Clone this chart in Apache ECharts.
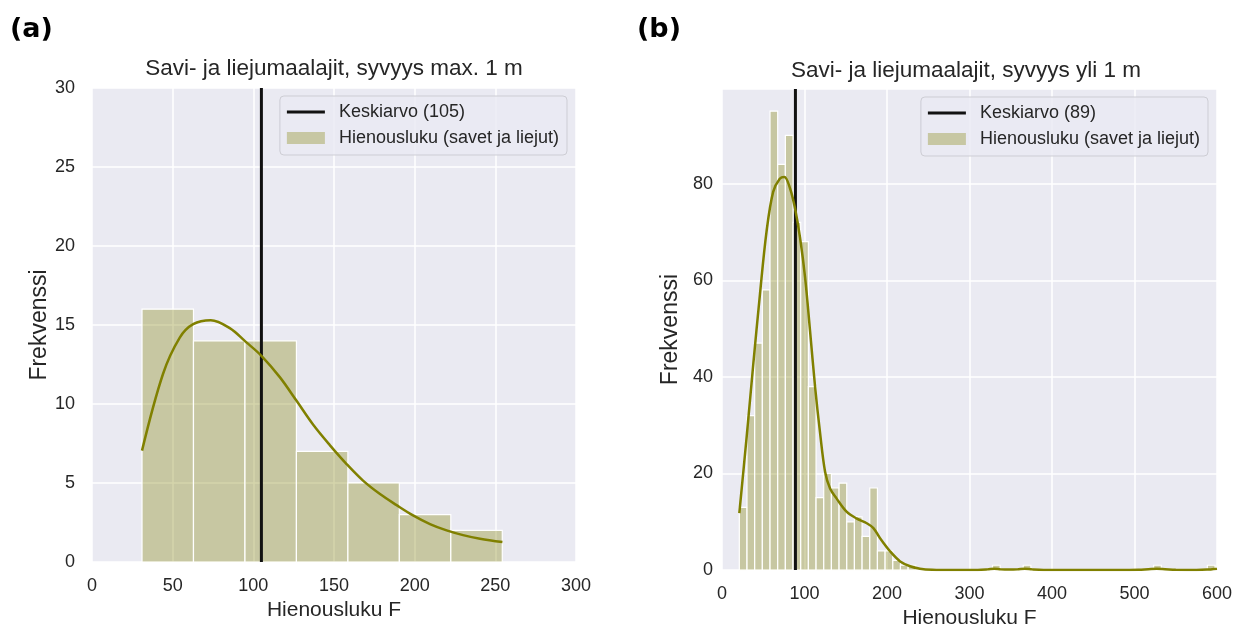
<!DOCTYPE html>
<html>
<head>
<meta charset="utf-8">
<script src="https://cdn.jsdelivr.net/npm/echarts@6/dist/echarts.min.js"></script>
<style>
  html, body { margin: 0; padding: 0; background: #fff; }
  #chart { width: 1236px; height: 634px; }
</style>
</head>
<body>
<div id="chart"></div>
<script>
// ---- data (a): syvyys max. 1 m ----
var meanA = 105;
var binStartA = 31;
var binWidthA = 31.9;
var countsA = [16, 14, 14, 7, 5, 3, 2];
var kdeXA = [31, 44, 54.4, 62.7, 73.6, 85.4, 95.7, 105, 116.4, 126.8, 137, 147.4, 157.8, 168, 178.5, 188.8, 199, 209.5, 219.8, 230, 240.5, 254.4];
var kdeYA = [7.05, 11.9, 14.2, 15.05, 15.3, 14.8, 13.9, 13.05, 11.7, 10.2, 8.7, 7.4, 6.2, 5.15, 4.3, 3.6, 2.95, 2.4, 2.0, 1.7, 1.47, 1.26];

// ---- data (b): syvyys yli 1 m ----
var meanB = 89;
var binStartB = 21;
var binWidthB = 9.3;
var countsB = [13, 32, 47, 58, 95, 84, 90, 72, 68, 38, 15, 20, 17, 18, 10, 11, 7, 17, 4, 4, 2, 1, 1,
               0, 0, 0, 0, 0, 0, 0, 0, 0, 0, 1, 0, 0, 0, 1,
               0, 0, 0, 0, 0, 0, 0, 0, 0, 0, 0, 0, 0, 0, 0, 0, 1,
               0, 0, 0, 0, 0, 0, 1];
var kdeXB = [21, 30, 38, 46, 54, 62, 70, 75.6, 82.5, 88.5, 94.6, 100.7, 106.7, 112.8, 118.8, 125, 131, 139, 151, 163, 175.5, 183.5, 191.6, 203.7, 216, 228, 240, 255, 280, 310, 322, 330, 338, 348, 358, 367, 376, 390, 420, 480, 505, 517, 527, 537, 550, 575, 588, 600];
var kdeYB = [11.8, 27.8, 42.8, 57.1, 70.1, 78.3, 81.0, 81.4, 79, 74.9, 68.8, 60.6, 49.6, 38, 28.5, 20.3, 16.9, 14.8, 12.1, 10.7, 9.7, 8.7, 6.6, 3.9, 1.8, 0.8, 0.3, 0.08, 0.02, 0.03, 0.15, 0.3, 0.15, 0.1, 0.15, 0.3, 0.15, 0.03, 0.01, 0.01, 0.05, 0.2, 0.3, 0.2, 0.05, 0.03, 0.1, 0.3];

var titleA = 'Savi- ja liejumaalajit, syvyys max. 1 m';
var titleB = 'Savi- ja liejumaalajit, syvyys yli 1 m';
var histName = 'Hienousluku (savet ja liejut)';

var FONT = '"Liberation Sans", Arial, sans-serif';
var TXT = '#262626';
var BAR = 'rgba(128,128,0,0.33)';
var OLIVE = '#808000';

function histData(start, width, counts) {
  return counts.map(function (c, i) {
    return [start + i * width, start + (i + 1) * width, c];
  });
}
function zip(xs, ys) {
  return xs.map(function (x, i) { return [x, ys[i]]; });
}
function renderHist(params, api) {
  var p0 = api.coord([api.value(0), api.value(2)]);
  var p1 = api.coord([api.value(1), 0]);
  return {
    type: 'rect',
    shape: { x: p0[0], y: p0[1], width: p1[0] - p0[0], height: p1[1] - p0[1] },
    style: { fill: BAR, stroke: '#ffffff', lineWidth: 1.2 }
  };
}

function xAxisCfg(gi, max, interval, gap) {
  return {
    gridIndex: gi, type: 'value', min: 0, max: max, interval: interval,
    axisLine: { show: false }, axisTick: { show: false },
    splitLine: { lineStyle: { color: '#ffffff', width: 1.5 } },
    axisLabel: { fontSize: 18, color: TXT, margin: 15, fontFamily: FONT },
    name: 'Hienousluku F', nameLocation: 'middle', nameGap: gap,
    nameTextStyle: { fontSize: 21, color: TXT, fontFamily: FONT }
  };
}
function yAxisCfg(gi, max, interval, margin, gap) {
  return {
    gridIndex: gi, type: 'value', min: 0, max: max, interval: interval,
    axisLine: { show: false }, axisTick: { show: false },
    splitLine: { lineStyle: { color: '#ffffff', width: 1.5 } },
    axisLabel: {
      fontSize: 18, color: TXT, margin: margin, fontFamily: FONT,
      formatter: function (v) { return v % interval === 0 ? String(v) : ''; }
    },
    name: 'Frekvenssi', nameLocation: 'middle', nameGap: gap,
    nameTextStyle: { fontSize: 23, color: TXT, fontFamily: FONT }
  };
}
function legendCfg(meanName, right, top) {
  return {
    orient: 'vertical', right: right, top: top,
    itemWidth: 38, itemHeight: 12, itemGap: 8,
    padding: [7, 8, 8, 7],
    backgroundColor: 'rgba(234,234,242,0.8)',
    borderColor: '#cdcdd4', borderWidth: 1, borderRadius: 4,
    textStyle: { fontSize: 18, color: TXT, fontFamily: FONT, padding: [0, 0, 0, 9] },
    selectedMode: false,
    data: [
      { name: meanName, icon: 'path://M0,0H38V3H0Z', itemStyle: { color: '#111111' } },
      { name: histName, icon: 'rect', itemStyle: { color: BAR } }
    ]
  };
}

var yMaxA = 30, yMaxB = 99.6;
var meanNameA = 'Keskiarvo (' + meanA + ')';
var meanNameB = 'Keskiarvo (' + meanB + ')';

var chart = echarts.init(document.getElementById('chart'));
chart.setOption({
  animation: false,
  graphic: [
    { type: 'text', left: 10, top: 16, style: { text: '(a)', font: 'bold 27px "DejaVu Sans", Verdana, sans-serif', fill: '#000' } },
    { type: 'text', left: 637, top: 16, style: { text: '(b)', font: 'bold 27px "DejaVu Sans", Verdana, sans-serif', fill: '#000' } },
    { type: 'text', x: 334, y: 68.5, style: { text: titleA, font: '22.5px ' + FONT, fill: TXT, align: 'center', verticalAlign: 'middle' } },
    { type: 'text', x: 966, y: 70.5, style: { text: titleB, font: '22.5px ' + FONT, fill: TXT, align: 'center', verticalAlign: 'middle' } }
  ],
  grid: [
    { left: 92, top: 88, width: 484, height: 474, show: true, backgroundColor: '#eaeaf2', borderWidth: 0 },
    { left: 722, top: 89, width: 495, height: 487, show: true, backgroundColor: '#eaeaf2', borderWidth: 0 }
  ],
  xAxis: [xAxisCfg(0, 300, 50, 31), xAxisCfg(1, 600, 100, 31)],
  yAxis: [yAxisCfg(0, yMaxA, 5, 17, 38), yAxisCfg(1, yMaxB, 20, 9, 40)],
  legend: [legendCfg(meanNameA, 669, 96), legendCfg(meanNameB, 28, 97)],
  series: [
    { name: histName, type: 'custom', xAxisIndex: 0, yAxisIndex: 0, renderItem: renderHist,
      itemStyle: { color: BAR }, encode: { x: [0, 1], y: 2 }, data: histData(binStartA, binWidthA, countsA), z: 1 },
    { name: 'kdeA', type: 'line', xAxisIndex: 0, yAxisIndex: 0, data: zip(kdeXA, kdeYA),
      smooth: 0.35, showSymbol: false, lineStyle: { color: OLIVE, width: 2.5 }, z: 3 },
    { name: meanNameA, type: 'line', xAxisIndex: 0, yAxisIndex: 0, data: [[meanA, 0], [meanA, yMaxA]],
      showSymbol: false, lineStyle: { color: '#111111', width: 3 }, itemStyle: { color: '#111111' }, z: 2 },

    { name: histName, type: 'custom', xAxisIndex: 1, yAxisIndex: 1, renderItem: renderHist,
      itemStyle: { color: BAR }, encode: { x: [0, 1], y: 2 }, data: histData(binStartB, binWidthB, countsB), z: 1 },
    { name: 'kdeB', type: 'line', xAxisIndex: 1, yAxisIndex: 1, data: zip(kdeXB, kdeYB),
      smooth: 0.35, showSymbol: false, lineStyle: { color: OLIVE, width: 2.5 }, z: 3 },
    { name: meanNameB, type: 'line', xAxisIndex: 1, yAxisIndex: 1, data: [[meanB, 0], [meanB, yMaxB]],
      showSymbol: false, lineStyle: { color: '#111111', width: 3 }, itemStyle: { color: '#111111' }, z: 2 }
  ]
});
</script>
</body>
</html>
